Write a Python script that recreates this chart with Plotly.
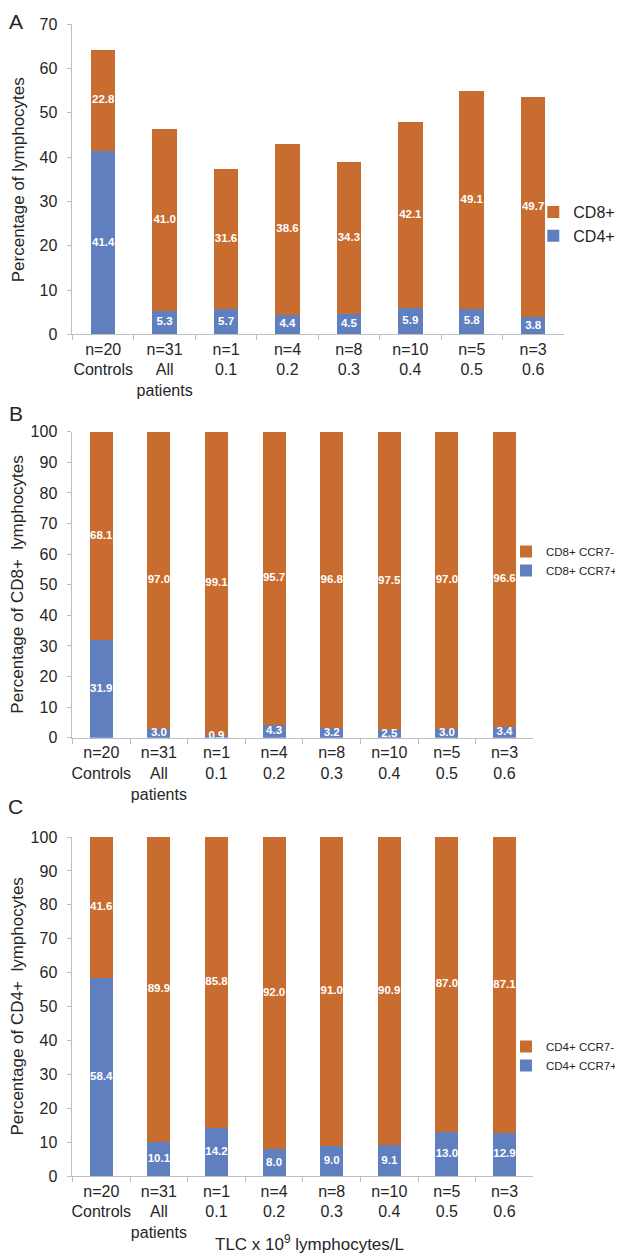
import plotly.graph_objects as go

categories = ["n=20<br>Controls", "n=31<br>All<br>patients", "n=1<br>0.1", "n=4<br>0.2",
              "n=8<br>0.3", "n=10<br>0.4", "n=5<br>0.5", "n=3<br>0.6"]

# Panel A: % of lymphocytes
a_cd4 = [41.4, 5.3, 5.7, 4.4, 4.5, 5.9, 5.8, 3.8]
a_cd8 = [22.8, 41.0, 31.6, 38.6, 34.3, 42.1, 49.1, 49.7]
# Panel B: % of CD8+ lymphocytes
b_pos = [31.9, 3.0, 0.9, 4.3, 3.2, 2.5, 3.0, 3.4]
b_neg = [68.1, 97.0, 99.1, 95.7, 96.8, 97.5, 97.0, 96.6]
# Panel C: % of CD4+ lymphocytes
c_pos = [58.4, 10.1, 14.2, 8.0, 9.0, 9.1, 13.0, 12.9]
c_neg = [41.6, 89.9, 85.8, 92.0, 91.0, 90.9, 87.0, 87.1]

ORANGE = "#C96C2F"
BLUE = "#5F7FBE"
AXIS = "#BFBFBF"
TXT = "#262626"
FONT = "Liberation Sans, Arial, sans-serif"

# the page body has an 8px margin, so the figure is 8px smaller and all
# positions below are given in window pixels and shifted by 8
OFF = 8
W, H = 623 - OFF, 1257 - OFF
def py(p):
    return 1 - (p - OFF) / H
def px(p):
    return (p - OFF) / W

fig = go.Figure()

def add_stack(bottom, top, names, xa, ya, leg):
    for vals, name, color in ((bottom, names[0], BLUE), (top, names[1], ORANGE)):
        fig.add_trace(go.Bar(
            x=categories, y=vals, name=name, marker=dict(color=color, line=dict(width=0)),
            xaxis=xa, yaxis=ya, legend=leg, width=0.4, hoverinfo="skip",
        ))
    for vals, base in ((bottom, [0] * len(bottom)), (top, bottom)):
        fig.add_trace(go.Scatter(
            x=categories, y=[b + v / 2 for b, v in zip(base, vals)],
            text=[f"{v:.1f}" for v in vals], mode="text", showlegend=False,
            xaxis=xa, yaxis=ya, hoverinfo="skip", cliponaxis=False,
            textfont=dict(color="white", size=11.5, family="Liberation Sans, Arial",
                          weight="bold"),
        ))

add_stack(a_cd4, a_cd8, ("CD4+", "CD8+"), "x", "y", "legend")
add_stack(b_pos, b_neg, ("CD8+ CCR7+", "CD8+ CCR7-"), "x2", "y2", "legend2")
add_stack(c_pos, c_neg, ("CD4+ CCR7+", "CD4+ CCR7-"), "x3", "y3", "legend3")

xcommon = dict(showline=True, linecolor=AXIS, linewidth=1, ticks="outside", ticklen=5,
               tickcolor=AXIS, tickson="boundaries", showgrid=False, zeroline=False,
               tickangle=0, automargin=False,
               tickfont=dict(size=16, color=TXT, family=FONT), fixedrange=True)
ycommon = dict(showline=True, linecolor=AXIS, linewidth=1, ticks="outside", ticklen=4,
               tickcolor=AXIS, showgrid=False, zeroline=False, dtick=10, automargin=False,
               tickfont=dict(size=16, color=TXT, family=FONT), ticklabelstandoff=7,
               fixedrange=True)

fig.update_layout(
    width=W, height=H, margin=dict(l=0, r=0, t=0, b=0),
    paper_bgcolor="white", plot_bgcolor="white",
    barmode="stack", showlegend=True,
    font=dict(family=FONT, color=TXT),
    xaxis=dict(domain=[px(72.7), px(565.7)], anchor="y", **xcommon),
    yaxis=dict(domain=[py(334.3), py(24.3)], range=[0, 70], anchor="x", **ycommon),
    xaxis2=dict(domain=[px(72.7), px(535)], anchor="y2", **xcommon),
    yaxis2=dict(domain=[py(737.7), py(431.7)], range=[0, 100], anchor="x2", **ycommon),
    xaxis3=dict(domain=[px(72.7), px(535)], anchor="y3", **xcommon),
    yaxis3=dict(domain=[py(1176.3), py(837)], range=[0, 100], anchor="x3", **ycommon),
    legend=dict(x=px(535), y=py(195), xanchor="left", yanchor="top", traceorder="reversed",
                font=dict(size=16, color=TXT, family=FONT), bgcolor="rgba(0,0,0,0)",
                tracegroupgap=0),
    legend2=dict(x=px(508), y=py(537), xanchor="left", yanchor="top", traceorder="reversed",
                 font=dict(size=11.5, color=TXT, family=FONT), bgcolor="rgba(0,0,0,0)",
                 tracegroupgap=0),
    legend3=dict(x=px(508), y=py(1032), xanchor="left", yanchor="top", traceorder="reversed",
                 font=dict(size=11.5, color=TXT, family=FONT), bgcolor="rgba(0,0,0,0)",
                 tracegroupgap=0),
)

ann = []
def label(text, x, y, size, angle=0, yanchor="middle"):
    ann.append(dict(text=text, x=px(x), y=py(y), xref="paper", yref="paper",
                    showarrow=False, textangle=angle, xanchor="center", yanchor=yanchor,
                    font=dict(size=size, color=TXT, family=FONT)))

label("A", 16, 8, 21, yanchor="top")
label("B", 16, 414, 21)
label("C", 16, 806, 21)
label("Percentage of lymphocytes", 18, 179.3, 17, -90)
label("Percentage of CD8+  lymphocytes", 18, 584.7, 17, -90)
label("Percentage of CD4+  lymphocytes", 18, 1006.6, 17, -90)
label("TLC x 10<sup>9</sup> lymphocytes/L", 310, 1243, 17)
fig.update_layout(annotations=ann)

fig.write_html("out.html")
